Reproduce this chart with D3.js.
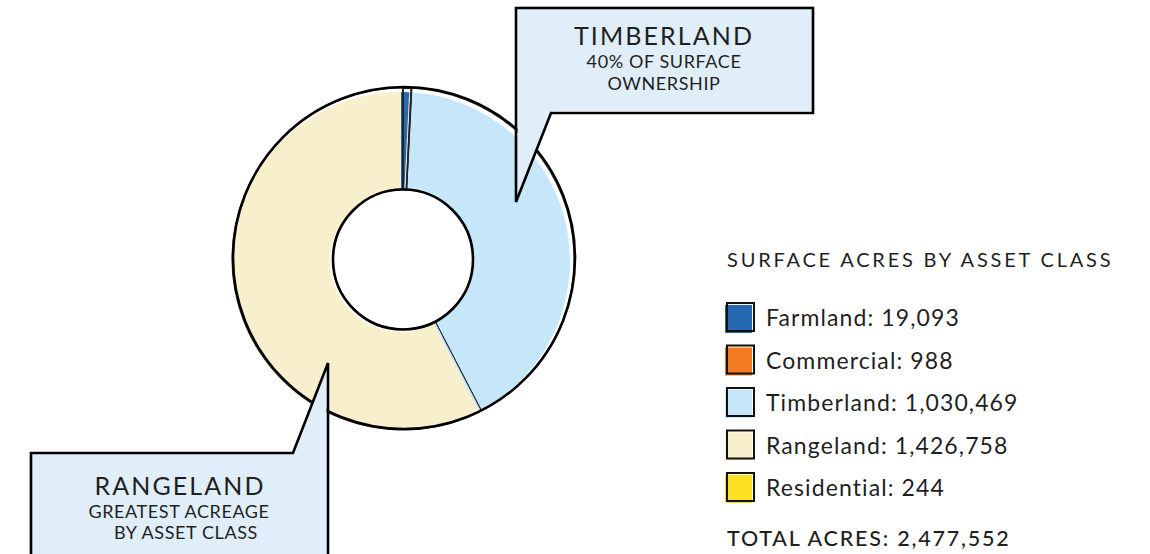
<!DOCTYPE html>
<html lang="en">
<head>
    <meta charset="UTF-8">
    <title>Surface acres by asset class</title>
    <script src="https://cdn.jsdelivr.net/npm/d3@7"></script>
    <style>
        body { margin: 0; background: #fff; }
        svg text { font-family: Lato, "Noto Sans", sans-serif; fill: #1f1f1f; }
    </style>
</head>
<body>
    <script>
        // data
        var categories = ['Farmland', 'Commercial', 'Timberland', 'Rangeland', 'Residential'];
        var acres = [19093, 988, 1030469, 1426758, 244];
        var colors = ['#2569b3', '#f47b20', '#c5e7f9', '#f8f0cd', '#fde021'];
        var legendTitle = 'SURFACE ACRES BY ASSET CLASS';
        var totalLabel = 'TOTAL ACRES: ';

        var w = 1150;
        var h = 554;

        var svg = d3.select('body')
                    .append('svg')
                    .attr('width', w)
                    .attr('height', h);

        var fmt = d3.format(',');

        var slices = d3.pie()
                        .sort(null)
                        .value(function(d) { return d; })(acres);

        // fill arcs, drawn a little off the outlines (hand-drawn look)
        var fillArc = d3.arc().innerRadius(71).outerRadius(169);
        var lineArc = d3.arc().innerRadius(70).outerRadius(171);

        var donutFill = svg.append('g').attr('transform', 'translate(401,261)');
        donutFill.selectAll('path')
            .data(slices)
            .enter()
            .append('path')
            .attr('d', fillArc)
            .attr('fill', function(d, i) { return colors[i]; });

        var donutLine = svg.append('g').attr('transform', 'translate(403,259)');
        donutLine.selectAll('path')
            .data(slices)
            .enter()
            .append('path')
            .attr('d', lineArc)
            .attr('fill', 'none')
            .attr('stroke', '#222')
            .attr('stroke-width', function(d) { return d.value < 50000 ? 1.4 : 0.9; });

        donutLine.append('circle')
            .attr('r', 171)
            .attr('cx', 1)
            .attr('cy', -1)
            .attr('fill', 'none')
            .attr('stroke', '#000')
            .attr('stroke-width', 2.6);

        donutLine.append('circle')
            .attr('r', 70)
            .attr('cx', 0)
            .attr('cy', 0.5)
            .attr('fill', 'none')
            .attr('stroke', '#000')
            .attr('stroke-width', 2.6);

        // callouts
        function callout(pts, fillShift) {
            var line = d3.line();
            svg.append('path')
                .attr('d', line(pts) + 'Z')
                .attr('transform', 'translate(' + fillShift[0] + ',' + fillShift[1] + ')')
                .attr('fill', '#dfeef9');
            svg.append('path')
                .attr('d', line(pts) + 'Z')
                .attr('fill', 'none')
                .attr('stroke', '#000')
                .attr('stroke-width', 2.6)
                .attr('stroke-linejoin', 'miter');
        }

        callout([[516, 8], [813, 8], [813, 113], [551, 113], [516, 202], [516, 8]], [1.5, -2]);
        callout([[328, 363], [328, 600], [31, 600], [31, 453], [293, 453]], [-1.5, 1]);

        function label(x, y, txt, size, spacing) {
            svg.append('text')
                .attr('x', x)
                .attr('y', y)
                .attr('text-anchor', 'middle')
                .attr('font-size', size)
                .attr('letter-spacing', spacing)
                .text(txt);
        }

        label(664, 45, 'TIMBERLAND', 25, 2.1);
        label(664, 68, '40% OF SURFACE', 18, 0.6);
        label(664, 90, 'OWNERSHIP', 18, 0.6);

        label(180, 495, 'RANGELAND', 25, 2.1);
        label(179, 518, 'GREATEST ACREAGE', 18, 0.6);
        label(186, 539, 'BY ASSET CLASS', 18, 0.6);

        // legend
        var legend = svg.append('g');

        legend.append('text')
            .attr('x', 727)
            .attr('y', 267)
            .attr('font-size', 20)
            .attr('letter-spacing', 2.8)
            .text(legendTitle);

        var rowY = d3.scalePoint()
                        .domain(categories)
                        .range([303, 473]);

        var rows = legend.selectAll('g.row')
            .data(categories)
            .enter()
            .append('g')
            .attr('class', 'row')
            .attr('transform', function(d) { return 'translate(727,' + rowY(d) + ')'; });

        rows.append('rect')
            .attr('x', -2)
            .attr('y', 2)
            .attr('width', 27)
            .attr('height', 28)
            .attr('fill', function(d, i) { return colors[i]; });

        rows.append('rect')
            .attr('width', 27)
            .attr('height', 28)
            .attr('fill', 'none')
            .attr('stroke', '#111')
            .attr('stroke-width', 2);

        rows.append('text')
            .attr('x', 39)
            .attr('y', 23)
            .attr('font-size', 23)
            .attr('letter-spacing', 1.1)
            .text(function(d, i) { return d + ': ' + fmt(acres[i]); });

        legend.append('text')
            .attr('x', 727)
            .attr('y', 546)
            .attr('font-size', 21.5)
            .attr('font-weight', 500)
            .attr('letter-spacing', 1.8)
            .text(totalLabel + fmt(d3.sum(acres)));
    </script>
</body>
</html>
